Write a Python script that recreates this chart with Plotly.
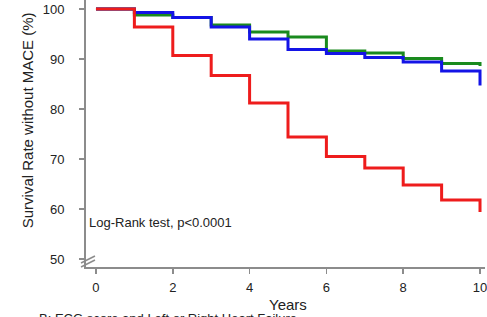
import plotly.graph_objects as go

years = [0, 1, 2, 3, 4, 5, 6, 7, 8, 9, 10]
red_vals = [100, 96.4, 90.7, 86.7, 81.2, 74.4, 70.5, 68.2, 64.8, 61.8, 59.4]
green_vals = [100, 98.8, 98.3, 96.8, 95.4, 94.4, 91.6, 91.2, 90.1, 89.1, 88.6]
blue_vals = [100, 99.3, 98.3, 96.4, 94.0, 91.9, 91.1, 90.3, 89.4, 87.6, 84.7]
x_ticks = [0, 2, 4, 6, 8, 10]
y_ticks = [50, 60, 70, 80, 90, 100]

W, H = 487, 317
L, R, T, B = 86, 0, 0, 50
PW, PH = W - L - R, H - T - B

def px(xp):
    return (xp - L) / PW

def py(yp):
    return (H - B - yp) / PH

fig = go.Figure()
for vals, col in [(green_vals, "#1a8a1e"), (blue_vals, "#1414e6"), (red_vals, "#ee1c1c")]:
    fig.add_trace(go.Scatter(x=years, y=vals, mode="lines", line=dict(shape="hv", color=col, width=3),
                             showlegend=False, hoverinfo="skip", cliponaxis=False))

axis_col = "#8c8c8c"
fig.update_layout(
    width=W, height=H,
    margin=dict(l=L, r=R, t=T, b=B),
    paper_bgcolor="white", plot_bgcolor="white",
    font=dict(family="Liberation Sans, Arial, sans-serif", color="#222222", size=12),
    xaxis=dict(range=[-0.26, 10.13], tickvals=x_ticks, ticktext=[str(v) for v in x_ticks],
               showgrid=False, zeroline=False, showline=True, linecolor=axis_col, linewidth=2,
               ticks="outside", ticklen=5, tickwidth=1.5, tickcolor=axis_col,
               tickfont=dict(size=13), ticklabelstandoff=2, ticklabeloverflow="allow"),
    yaxis=dict(range=[48.4, 101.8], tickvals=y_ticks, ticktext=[str(v) for v in y_ticks],
               showgrid=False, zeroline=False, showline=True, linecolor=axis_col, linewidth=2,
               ticks="outside", ticklen=5, tickwidth=1.5, tickcolor=axis_col,
               tickfont=dict(size=13), ticklabelstandoff=12, ticklabeloverflow="allow"),
)

fig.add_annotation(x=-0.23, y=57.4, xref="x", yref="y", text="Log-Rank test, p<0.0001",
                   showarrow=False, xanchor="left", yanchor="middle", font=dict(size=13))
fig.add_annotation(x=px(289), y=py(304), xref="paper", yref="paper", text="Years",
                   showarrow=False, xanchor="center", yanchor="middle", font=dict(size=15))
fig.add_annotation(x=px(27), y=py(120), xref="paper", yref="paper", text="Survival Rate without MACE (%)",
                   showarrow=False, textangle=-90, xanchor="center", yanchor="middle", font=dict(size=15))
fig.add_annotation(x=px(37), y=py(309), xref="paper", yref="paper",
                   text="B: ECG score and Left or Right Heart Failure",
                   showarrow=False, xanchor="left", yanchor="top", font=dict(size=13))

# axis break marks
for dy in (0, 4):
    fig.add_shape(type="line", xref="paper", yref="paper",
                  x0=px(81), y0=py(263 + dy), x1=px(95), y1=py(256 + dy),
                  line=dict(color=axis_col, width=1.5))

fig.write_html("out.html", config={"displayModeBar": False, "staticPlot": True},
               post_script="document.body.style.margin='0';document.body.style.overflow='hidden';")
